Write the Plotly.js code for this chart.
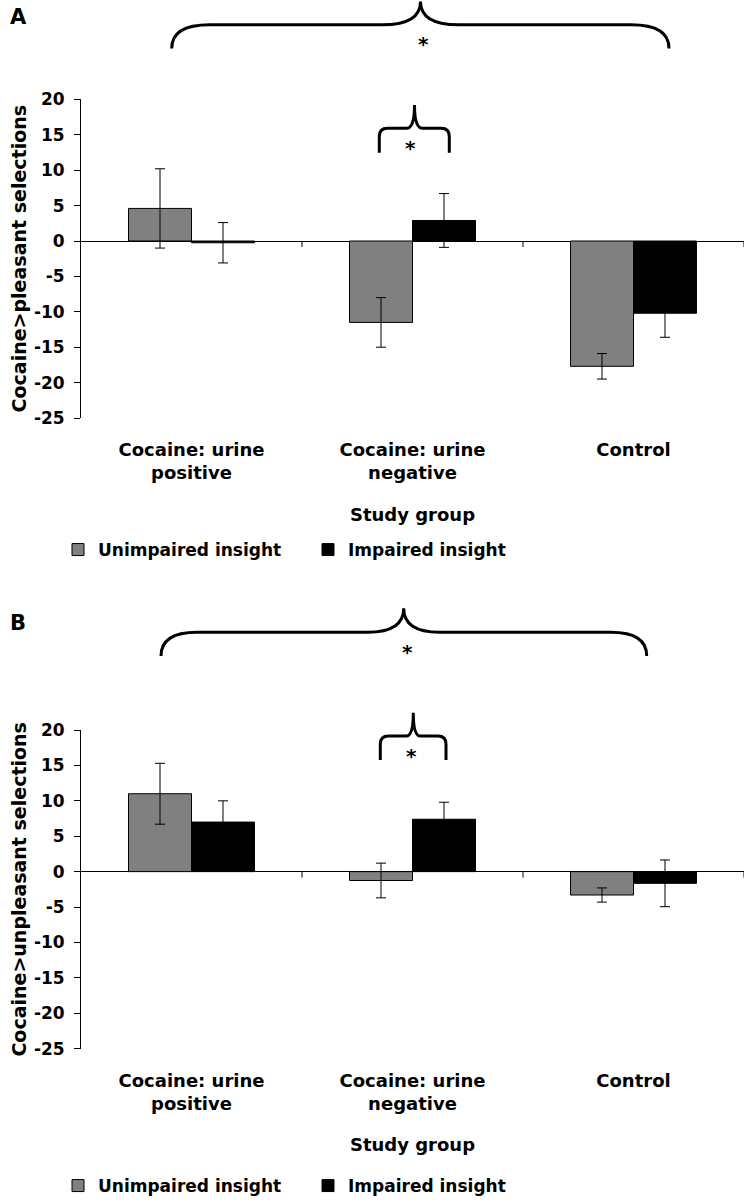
<!DOCTYPE html>
<html>
<head>
<meta charset="utf-8">
<script src="https://cdn.plot.ly/plotly-3.0.1.min.js"></script>
<style>html,body{margin:0;padding:0;background:#fff;}#chart{width:752px;height:1200px;}</style>
</head>
<body>
<div id="chart"></div>
<script>
// ---- data ----
const categories = ['Cocaine: urine<br>positive', 'Cocaine: urine<br>negative', 'Control'];
const seriesNames = ['Unimpaired insight', 'Impaired insight'];
const pleasantUnimpaired = [4.6, -11.5, -17.7];
const pleasantUnimpairedErr = [5.6, 3.5, 1.8];
const pleasantImpaired = [-0.25, 2.9, -10.2];
const pleasantImpairedErr = [2.85, 3.8, 3.4];
const unpleasantUnimpaired = [11.0, -1.25, -3.3];
const unpleasantUnimpairedErr = [4.3, 2.45, 1.0];
const unpleasantImpaired = [7.0, 7.4, -1.65];
const unpleasantImpairedErr = [3.0, 2.4, 3.3];
const yTickVals = [-25, -20, -15, -10, -5, 0, 5, 10, 15, 20];
const yTickText = ['-25', '-20', '-15', '-10', '-5', '0', '5', '10', '15', '20'];
const yTitles = ['Cocaine&gt;pleasant selections', 'Cocaine&gt;unpleasant selections'];
const xTitle = 'Study group';
const panelLabels = ['A', 'B'];

// ---- style / layout helpers ----
const W = 752, H = 1200;
const px = x => x / W;
const py = y => 1 - y / H;
const FONT = 'DejaVu Sans';
const colors = ['#808080', '#000000'];

function bar(x, y, err, i, xa, ya, legend) {
  return {
    type: 'bar', x: x, y: y, name: seriesNames[i],
    xaxis: xa, yaxis: ya, legend: legend,
    marker: {color: colors[i], line: {color: '#000', width: 1}},
    error_y: {type: 'data', array: err, visible: true, color: '#000', thickness: 1, width: 5},
    showlegend: true, hoverinfo: 'skip'
  };
}

const traces = [
  bar(categories, pleasantUnimpaired, pleasantUnimpairedErr, 0, 'x', 'y', 'legend'),
  bar(categories, pleasantImpaired, pleasantImpairedErr, 1, 'x', 'y', 'legend'),
  bar(categories, unpleasantUnimpaired, unpleasantUnimpairedErr, 0, 'x2', 'y2', 'legend2'),
  bar(categories, unpleasantImpaired, unpleasantImpairedErr, 1, 'x2', 'y2', 'legend2')
];

function xAxis(anchor) {
  return {
    domain: [px(81), px(744)], anchor: anchor, type: 'category', automargin: false,
    range: [-0.5, 2.5], showline: false, ticks: '', showgrid: false, zeroline: false,
    tickfont: {family: FONT, size: 18, color: '#000', weight: 'bold'},
    ticklabelstandoff: 19,
    title: {text: xTitle, standoff: 25, font: {family: FONT, size: 18, color: '#000', weight: 'bold'}},
    fixedrange: true
  };
}
function yAxis(anchor, domain, title) {
  return {
    domain: domain, anchor: anchor, range: [-25, 20], tickvals: yTickVals, ticktext: yTickText,
    automargin: false,
    showline: true, linecolor: '#000', linewidth: 1,
    ticks: 'outside', ticklen: 6, tickwidth: 1, tickcolor: '#000',
    ticklabelstandoff: 6,
    showgrid: false, zeroline: true, zerolinecolor: '#000', zerolinewidth: 1,
    tickfont: {family: FONT, size: 17, color: '#000', weight: 'bold'},
    title: {text: title, standoff: 2, font: {family: FONT, size: 19, color: '#000', weight: 'bold'}},
    fixedrange: true
  };
}

// brace geometry (pixels)
const braces = [
  {xl: 171.7, xr: 669, xc: 420.5, yEnd: 48.5, yBar: 24.8, yTip: 1.5, rx: 38, ry: 23.7, cw: 38, star: [423.5, 44]},
  {xl: 379.3, xr: 449.3, xc: 414.5, yEnd: 152.7, yBar: 128.3, yTip: 105, rx: 8, ry: 8, cw: 8, star: [410.3, 147.5]},
  {xl: 161, xr: 646.7, xc: 403.7, yEnd: 656, yBar: 632.3, yTip: 608.3, rx: 36, ry: 23.7, cw: 36, star: [407.7, 652]},
  {xl: 380.3, xr: 446, xc: 413.3, yEnd: 760, yBar: 736, yTip: 712.7, rx: 8, ry: 8, cw: 7, star: [411, 756]}
];
function bracePath(b) {
  const P = (x, y) => px(x) + ',' + py(y);
  return 'M' + P(b.xl, b.yEnd) + ' L' + P(b.xl, b.yBar + b.ry) +
    ' Q' + P(b.xl, b.yBar) + ' ' + P(b.xl + b.rx, b.yBar) +
    ' L' + P(b.xc - b.cw, b.yBar) +
    ' Q' + P(b.xc, b.yBar) + ' ' + P(b.xc, b.yTip) +
    ' Q' + P(b.xc, b.yBar) + ' ' + P(b.xc + b.cw, b.yBar) +
    ' L' + P(b.xr - b.rx, b.yBar) +
    ' Q' + P(b.xr, b.yBar) + ' ' + P(b.xr, b.yBar + b.ry) +
    ' L' + P(b.xr, b.yEnd);
}

const shapes = [];
braces.forEach(b => shapes.push({type: 'path', xref: 'paper', yref: 'paper', path: bracePath(b), line: {color: '#000', width: 3}}));
// category boundary tick marks on the zero line
[['x', 'y'], ['x2', 'y2']].forEach(([xa, ya]) => {
  [0.5, 1.5, 2.5].forEach(v => shapes.push({
    type: 'line', xref: xa, yref: ya, x0: v, x1: v, ysizemode: 'pixel', yanchor: 0, y0: 0, y1: -6,
    line: {color: '#000', width: 1}
  }));
});

const annotations = [];
braces.forEach(b => annotations.push({
  xref: 'paper', yref: 'paper', x: px(b.star[0]), y: py(b.star[1]), text: '*', showarrow: false,
  xanchor: 'center', yanchor: 'middle', font: {family: FONT, size: 20, color: '#000', weight: 'bold'}
}));
annotations.push({xref: 'paper', yref: 'paper', x: px(8), y: py(3), text: panelLabels[0], showarrow: false,
  xanchor: 'left', yanchor: 'top', font: {family: FONT, size: 21, color: '#000', weight: 'bold'}});
annotations.push({xref: 'paper', yref: 'paper', x: px(8), y: py(609), text: panelLabels[1], showarrow: false,
  xanchor: 'left', yanchor: 'top', font: {family: FONT, size: 21, color: '#000', weight: 'bold'}});

function legendCfg(yc) {
  return {
    orientation: 'h', xref: 'container', yref: 'container',
    x: px(58), y: py(yc), xanchor: 'left', yanchor: 'middle',
    font: {family: FONT, size: 17, color: '#000', weight: 'bold'},
    bgcolor: 'rgba(0,0,0,0)', borderwidth: 0, entrywidth: 205, entrywidthmode: 'pixels',
    traceorder: 'normal', itemclick: false, itemdoubleclick: false
  };
}

const layout = {
  width: W, height: H, margin: {l: 0, r: 0, t: 0, b: 0, autoexpand: false},
  paper_bgcolor: '#fff', plot_bgcolor: '#fff',
  barmode: 'group', bargap: 0.43, bargroupgap: 0,
  xaxis: xAxis('y'),
  yaxis: yAxis('x', [py(418), py(99.4)], yTitles[0]),
  xaxis2: xAxis('y2'),
  yaxis2: yAxis('x2', [py(1048.7), py(730)], yTitles[1]),
  legend: legendCfg(550),
  legend2: legendCfg(1186),
  shapes: shapes, annotations: annotations,
  showlegend: true
};

Plotly.newPlot('chart', traces, layout, {staticPlot: true, displayModeBar: false});
</script>
</body>
</html>
